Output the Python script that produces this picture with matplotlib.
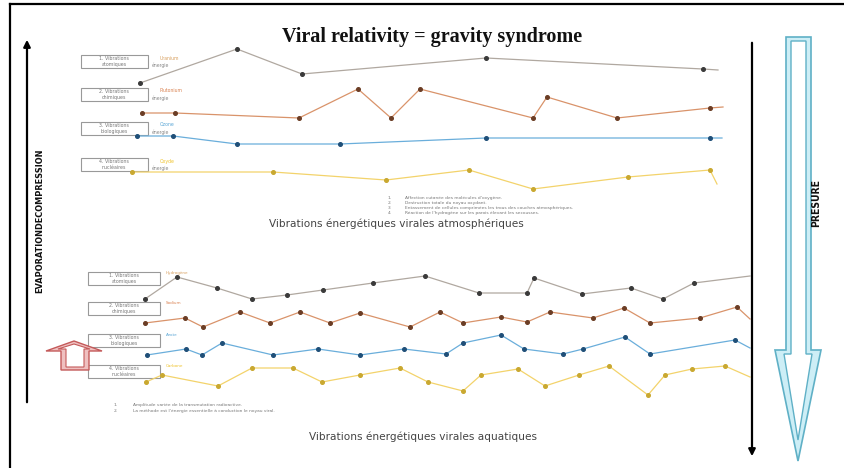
import matplotlib.pyplot as plt
from matplotlib.patches import Polygon, Rectangle

# ---- data (pixel-like units, y grows downward) ----
top_atom_x = [140, 237, 302, 486, 703, 718]
top_atom_y = [83, 49, 74, 58, 69, 70]
top_chem_x = [142, 175, 299, 358, 391, 420, 533, 547, 617, 710, 723]
top_chem_y = [113, 113, 118, 89, 118, 89, 118, 97, 118, 108, 107]
top_bio_x = [137, 173, 237, 340, 486, 710, 722]
top_bio_y = [136, 136, 144, 144, 138, 138, 138]
top_nuc_x = [132, 273, 386, 469, 533, 628, 710, 717]
top_nuc_y = [172, 172, 180, 170, 189, 177, 170, 184]

bot_atom_x = [145, 177, 217, 252, 287, 323, 373, 425, 479, 527, 534, 582, 631, 663, 694, 750]
bot_atom_y = [299, 277, 288, 299, 295, 290, 283, 276, 293, 293, 278, 294, 288, 299, 283, 276]
bot_chem_x = [145, 185, 203, 240, 270, 300, 330, 360, 410, 440, 463, 501, 527, 550, 593, 624, 650, 700, 737, 750]
bot_chem_y = [323, 318, 327, 312, 323, 312, 323, 313, 327, 312, 323, 317, 322, 312, 318, 308, 323, 318, 307, 319]
bot_bio_x = [147, 186, 202, 222, 273, 318, 360, 404, 446, 463, 501, 524, 563, 583, 625, 650, 735, 750]
bot_bio_y = [355, 349, 355, 343, 355, 349, 355, 349, 354, 343, 335, 349, 354, 349, 337, 354, 340, 348]
bot_nuc_x = [146, 162, 218, 252, 293, 322, 360, 400, 428, 463, 481, 518, 545, 579, 609, 648, 665, 692, 725, 750]
bot_nuc_y = [382, 375, 386, 368, 368, 382, 375, 368, 382, 391, 375, 369, 386, 375, 366, 395, 375, 369, 366, 377]

box_labels = ['1. Vibrations\natomiques', '2. Vibrations\nchimiques',
              '3. Vibrations\nbiologiques', '4. Vibrations\nnucléaires']
elements = ['Uranium', 'Plutonium', 'Ozone', 'Oxyde']
bot_elements = ['Hydrogène', 'Sodium', 'Azote', 'Carbone']

top_notes = ['Affection cutanée des molécules d\'oxygène.',
             'Destruction totale du noyau oxydant.',
             'Entassement de cellules comprimées les trous des couches atmosphériques.',
             'Réaction de l\'hydrogène sur les parois élevant les secousses.']
bot_notes = ['Amplitude variée de la transmutation radioactive.',
             'La méthode est l\'énergie essentielle à conduction le noyau viral.']

line_cols = ['#b0a8a0', '#d9936a', '#6aaedb', '#f3d36b']
mark_cols = ['#3a3a3a', '#6b3d25', '#1f4f78', '#c9a830']
label_cols = ['#d8a060', '#d9804f', '#5aa6d6', '#efc22a']

fig = plt.figure(figsize=(8.44, 4.68), dpi=100)
ax = fig.add_axes([0, 0, 1, 1])
ax.set_xlim(0, 844)
ax.set_ylim(468, 0)
ax.axis('off')

# frame
ax.plot([10, 844], [4, 4], color='black', lw=1.6)
ax.plot([10, 10], [4, 468], color='black', lw=1.6)

# title
ax.text(432, 37, 'Viral relativity = gravity syndrome', ha='center', va='center',
        fontsize=14.5, fontweight='bold', family='Liberation Serif', color='#111')


def draw_series(xs, ys, i):
    ax.plot(xs, ys, color=line_cols[i], lw=0.9, marker='o', markersize=2.6,
            markerfacecolor=mark_cols[i], markeredgecolor=mark_cols[i],
            markevery=list(range(len(xs) - 1)))


for i, (xs, ys) in enumerate([(top_atom_x, top_atom_y), (top_chem_x, top_chem_y),
                              (top_bio_x, top_bio_y), (top_nuc_x, top_nuc_y)]):
    draw_series(xs, ys, i)
for i, (xs, ys) in enumerate([(bot_atom_x, bot_atom_y), (bot_chem_x, bot_chem_y),
                              (bot_bio_x, bot_bio_y), (bot_nuc_x, bot_nuc_y)]):
    draw_series(xs, ys, i)

# label boxes
top_box_y = [55, 88, 122, 158]
bot_box_y = [272, 302, 334, 365]
for i in range(4):
    ax.add_patch(Rectangle((81, top_box_y[i]), 67, 13, fill=False, ec='#999', lw=0.8))
    ax.text(114, top_box_y[i] + 6.5, box_labels[i], ha='center', va='center',
            fontsize=3.4, color='#777', linespacing=1.3)
    ax.text(160, top_box_y[i] + 3, elements[i], fontsize=3.3, color=label_cols[i], va='center')
    ax.text(152, top_box_y[i] + 10, 'énergie', fontsize=3.3, color='#888', va='center')

    ax.add_patch(Rectangle((88, bot_box_y[i]), 72, 13, fill=False, ec='#999', lw=0.8))
    ax.text(124, bot_box_y[i] + 6.5, box_labels[i], ha='center', va='center',
            fontsize=3.4, color='#777', linespacing=1.3)
    ax.text(166, bot_box_y[i] + 1, bot_elements[i], fontsize=3.0, color=label_cols[i], va='center')

# notes
for k, note in enumerate(top_notes):
    y = 198 + k * 5
    ax.text(388, y, f'{k + 1}.', fontsize=3.2, color='#777', va='center')
    ax.text(405, y, note, fontsize=3.2, color='#777', va='center')
for k, note in enumerate(bot_notes):
    y = 405 + k * 6
    ax.text(114, y, f'{k + 1}.', fontsize=3.2, color='#777', va='center')
    ax.text(133, y, note, fontsize=3.2, color='#777', va='center')

ax.text(396, 224, 'Vibrations énergétiques virales atmosphériques', ha='center', va='center',
        fontsize=7.6, color='#444')
ax.text(423, 437, 'Vibrations énergétiques virales aquatiques', ha='center', va='center',
        fontsize=7.6, color='#444')

# black axis arrows
ax.annotate('', xy=(27, 37), xytext=(27, 405),
            arrowprops=dict(arrowstyle='-|>', lw=1.6, color='black', mutation_scale=10))
ax.annotate('', xy=(752, 459), xytext=(752, 40),
            arrowprops=dict(arrowstyle='-|>', lw=1.6, color='black', mutation_scale=10))

narrow = ['Liberation Sans Narrow', 'DejaVu Sans']
ax.text(40, 221, 'EVAPORATIONDECOMPRESSION', rotation=90, ha='center', va='center',
        fontsize=6.6, fontweight='bold', family=narrow, fontstretch='condensed', color='#111')

# cyan pressure arrow (double outline)
outer = [(786, 37), (811, 37), (811, 350), (821, 350), (798, 461), (775, 350), (786, 350)]
inner = [(791, 41), (806, 41), (806, 354), (812, 354), (798, 440), (784, 354), (791, 354)]
ax.add_patch(Polygon(outer, closed=True, fc='#cdeef6', ec='#5fb0c6', lw=1.2))
ax.add_patch(Polygon(inner, closed=True, fc='white', ec='#5fb0c6', lw=1.0))

ax.text(816, 203, 'PRESURE', rotation=90, ha='center', va='center',
        fontsize=7.5, fontweight='bold', family=narrow, fontstretch='condensed', color='#111')

# red hollow up arrow
r_outer = [(61, 370), (61, 351), (46, 351), (74, 341), (102, 351), (89, 351), (89, 370)]
r_inner = [(66, 367), (66, 349), (58, 349), (74, 344), (90, 349), (84, 349), (84, 367)]
ax.add_patch(Polygon(r_outer, closed=True, fc='#efc0c0', ec='#c45a5a', lw=1.0))
ax.add_patch(Polygon(r_inner, closed=True, fc='white', ec='#c45a5a', lw=0.8))

fig.savefig('out.png', dpi=100)
